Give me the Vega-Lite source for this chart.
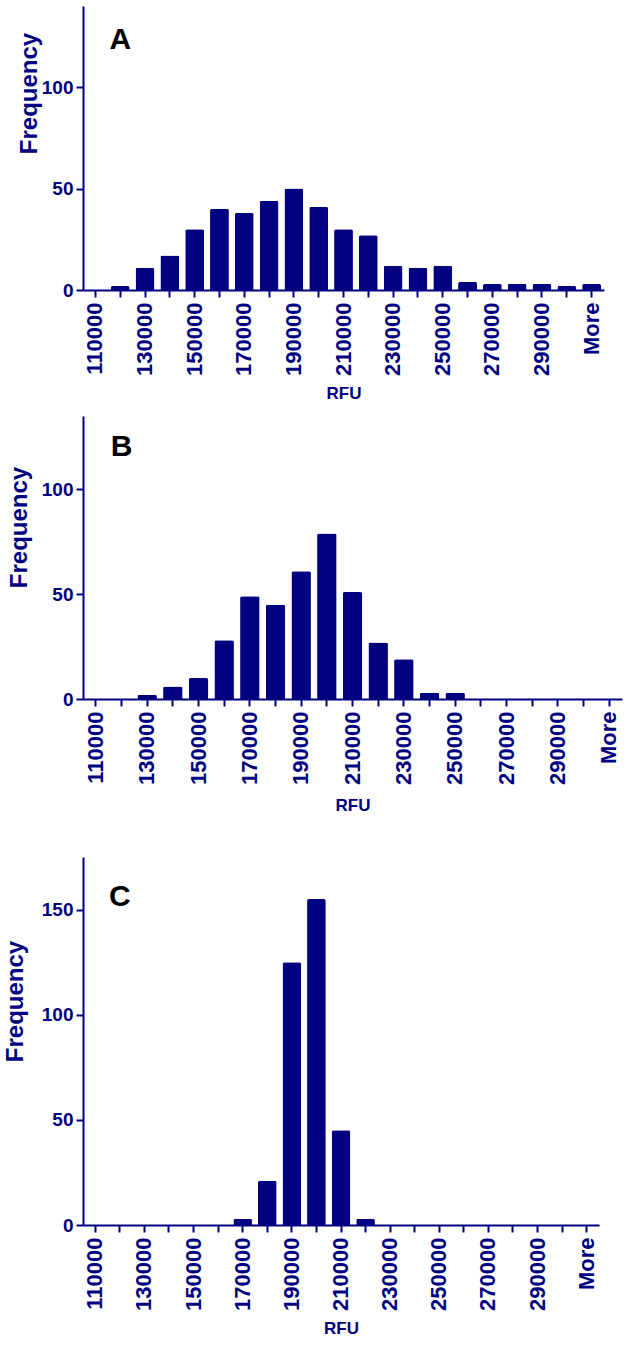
{
  "$schema": "https://vega.github.io/schema/vega-lite/v6.json",
  "padding": {"left": 2, "top": 6, "right": 5, "bottom": 5},
  "background": "white",
  "config": {
    "view": {"stroke": null},
    "font": "Liberation Sans",
    "axis": {
      "grid": false,
      "domainColor": "#000080",
      "domainWidth": 2,
      "tickColor": "#000080",
      "tickWidth": 2,
      "labelColor": "#000080",
      "titleColor": "#000080",
      "labelFont": "Liberation Sans",
      "titleFont": "Liberation Sans",
      "labelFontWeight": "bold",
      "titleFontWeight": "bold"
    },
    "axisX": {
      "labelAngle": -90,
      "labelFontSize": 22,
      "tickSize": 7,
      "labelPadding": 5,
      "labelOverlap": false,
      "labelBound": false,
      "titleFontSize": 17,
      "titleY": 95,
      "labelExpr": "indexof(['110000','130000','150000','170000','190000','210000','230000','250000','270000','290000','More'], datum.value) >= 0 ? datum.label : ''"
    },
    "axisY": {
      "labelFontSize": 19,
      "tickSize": 7,
      "labelPadding": 3,
      "titleFontSize": 24
    }
  },
  "datasets": {
    "A": [
      {"bin": "110000", "freq": 0}, {"bin": "120000", "freq": 2}, {"bin": "130000", "freq": 11},
      {"bin": "140000", "freq": 17}, {"bin": "150000", "freq": 30}, {"bin": "160000", "freq": 40},
      {"bin": "170000", "freq": 38}, {"bin": "180000", "freq": 44}, {"bin": "190000", "freq": 50},
      {"bin": "200000", "freq": 41}, {"bin": "210000", "freq": 30}, {"bin": "220000", "freq": 27},
      {"bin": "230000", "freq": 12}, {"bin": "240000", "freq": 11}, {"bin": "250000", "freq": 12},
      {"bin": "260000", "freq": 4}, {"bin": "270000", "freq": 3}, {"bin": "280000", "freq": 3},
      {"bin": "290000", "freq": 3}, {"bin": "300000", "freq": 2}, {"bin": "More", "freq": 3}
    ],
    "B": [
      {"bin": "110000", "freq": 0}, {"bin": "120000", "freq": 0}, {"bin": "130000", "freq": 2},
      {"bin": "140000", "freq": 6}, {"bin": "150000", "freq": 10}, {"bin": "160000", "freq": 28},
      {"bin": "170000", "freq": 49}, {"bin": "180000", "freq": 45}, {"bin": "190000", "freq": 61},
      {"bin": "200000", "freq": 79}, {"bin": "210000", "freq": 51}, {"bin": "220000", "freq": 27},
      {"bin": "230000", "freq": 19}, {"bin": "240000", "freq": 3}, {"bin": "250000", "freq": 3},
      {"bin": "260000", "freq": 0}, {"bin": "270000", "freq": 0}, {"bin": "280000", "freq": 0},
      {"bin": "290000", "freq": 0}, {"bin": "300000", "freq": 0}, {"bin": "More", "freq": 0}
    ],
    "C": [
      {"bin": "110000", "freq": 0}, {"bin": "120000", "freq": 0}, {"bin": "130000", "freq": 0},
      {"bin": "140000", "freq": 0}, {"bin": "150000", "freq": 0}, {"bin": "160000", "freq": 0},
      {"bin": "170000", "freq": 3}, {"bin": "180000", "freq": 21}, {"bin": "190000", "freq": 125},
      {"bin": "200000", "freq": 155}, {"bin": "210000", "freq": 45}, {"bin": "220000", "freq": 3},
      {"bin": "230000", "freq": 0}, {"bin": "240000", "freq": 0}, {"bin": "250000", "freq": 0},
      {"bin": "260000", "freq": 0}, {"bin": "270000", "freq": 0}, {"bin": "280000", "freq": 0},
      {"bin": "290000", "freq": 0}, {"bin": "300000", "freq": 0}, {"bin": "More", "freq": 0}
    ],
    "labA": [{"label": "A"}],
    "labB": [{"label": "B"}],
    "labC": [{"label": "C"}]
  },
  "vconcat": [
    {
      "spacing": 15,
      "vconcat": [
        {
          "width": 521,
          "height": 284,
          "layer": [
            {
              "data": {"name": "A"},
              "mark": {"type": "bar", "color": "#000080", "cornerRadiusTopLeft": 2, "cornerRadiusTopRight": 2},
              "encoding": {
                "x": {"field": "bin", "type": "nominal", "sort": null,
                      "scale": {"paddingInner": 0.24, "paddingOuter": 0.12},
                      "axis": {"title": "RFU"}},
                "y": {"field": "freq", "type": "quantitative",
                      "scale": {"domain": [0, 140], "nice": false},
                      "axis": {"title": "Frequency", "values": [0, 50, 100], "titleX": -42, "titleY": 87}}
              }
            },
            {
              "data": {"name": "labA"},
              "mark": {"type": "text", "fontSize": 30, "fontWeight": "bold", "color": "black", "font": "Liberation Sans", "baseline": "middle"},
              "encoding": {
                "text": {"field": "label"},
                "x": {"datum": "120000", "type": "nominal"},
                "y": {"datum": 123, "type": "quantitative"}
              }
            }
          ]
        },
        {
          "width": 539,
          "height": 283,
          "layer": [
            {
              "data": {"name": "B"},
              "mark": {"type": "bar", "color": "#000080", "cornerRadiusTopLeft": 2, "cornerRadiusTopRight": 2},
              "encoding": {
                "x": {"field": "bin", "type": "nominal", "sort": null,
                      "scale": {"paddingInner": 0.24, "paddingOuter": 0.12},
                      "axis": {"title": "RFU", "titleY": 98}},
                "y": {"field": "freq", "type": "quantitative",
                      "scale": {"domain": [0, 135], "nice": false},
                      "axis": {"title": "Frequency", "values": [0, 50, 100], "titleX": -52, "titleY": 111}}
              }
            },
            {
              "data": {"name": "labB"},
              "mark": {"type": "text", "fontSize": 30, "fontWeight": "bold", "color": "black", "font": "Liberation Sans", "baseline": "middle"},
              "encoding": {
                "text": {"field": "label"},
                "x": {"datum": "120000", "type": "nominal"},
                "y": {"datum": 120, "type": "quantitative"}
              }
            }
          ]
        }
      ]
    },
    {
      "width": 516,
      "height": 368,
      "layer": [
        {
          "data": {"name": "C"},
          "mark": {"type": "bar", "color": "#000080", "cornerRadiusTopLeft": 2, "cornerRadiusTopRight": 2},
          "encoding": {
            "x": {"field": "bin", "type": "nominal", "sort": null,
                  "scale": {"paddingInner": 0.24, "paddingOuter": 0.12},
                  "axis": {"title": "RFU"}},
            "y": {"field": "freq", "type": "quantitative",
                  "scale": {"domain": [0, 175], "nice": false},
                  "axis": {"title": "Frequency", "values": [0, 50, 100, 150], "titleX": -56, "titleY": 144}}
          }
        },
        {
          "data": {"name": "labC"},
          "mark": {"type": "text", "fontSize": 30, "fontWeight": "bold", "color": "black", "font": "Liberation Sans", "baseline": "middle"},
          "encoding": {
            "text": {"field": "label"},
            "x": {"datum": "120000", "type": "nominal"},
            "y": {"datum": 156, "type": "quantitative"}
          }
        }
      ]
    }
  ],
  "spacing": 44
}
